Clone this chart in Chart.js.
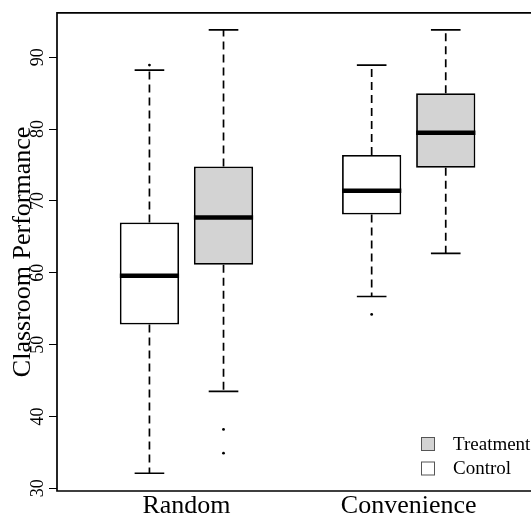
<!DOCTYPE html>
<html>
<head>
<meta charset="utf-8">
<script src="https://cdn.jsdelivr.net/npm/chart.js@4"></script>
<style>
html,body{margin:0;padding:0;background:#fff;overflow:hidden;}
#c{display:block;}
</style>
</head>
<body>
<canvas id="c" width="531" height="517"></canvas>
<script>
// ---- data ----
const groups = ['Random', 'Convenience'];
const groupPositions = [1.5, 4.5];
const seriesNames = ['Treatment', 'Control'];
const boxSeries = ['Control', 'Treatment', 'Control', 'Treatment'];
const positions = [1, 2, 4, 5];
const lowerWhisker = [32.1, 43.5, 56.7, 62.7];
const q1 = [52.8, 61.1, 68.1, 74.6];
const median = [59.6, 67.7, 71.4, 79.5];
const q3 = [67.0, 74.8, 76.4, 85.0];
const upperWhisker = [88.2, 93.8, 88.9, 93.8];
const outliers = [[88.9], [38.2, 34.9], [54.2], []];
const yTicks = [30, 40, 50, 60, 70, 80, 90];

// ---- styles ----
const FILL = { Control: '#ffffff', Treatment: '#d3d3d3' };
const BOX_HALF = 0.4;   // box half width in x units
const CAP_HALF = 0.2;   // staple half width in x units
const SERIF = "'Liberation Serif', 'Times New Roman', serif";

const boxData = positions.map((p, i) => ({ x: p, y: [q1[i], q3[i]] }));
const outlierData = [];
outliers.forEach((arr, i) => arr.forEach(v => outlierData.push({ x: positions[i], y: v })));

const boxPlugin = {
  id: 'boxParts',
  afterDatasetsDraw(chart) {
    const { ctx, scales: { x, y } } = chart;
    ctx.save();
    ctx.strokeStyle = '#000';
    positions.forEach((p, i) => {
      const cx = x.getPixelForValue(p);
      const capL = x.getPixelForValue(p - CAP_HALF), capR = x.getPixelForValue(p + CAP_HALF);
      const bL = x.getPixelForValue(p - BOX_HALF), bR = x.getPixelForValue(p + BOX_HALF);
      // whiskers (dashed)
      ctx.lineWidth = 1.7;
      ctx.setLineDash([8, 5]);
      ctx.lineCap = 'butt';
      ctx.beginPath();
      ctx.moveTo(cx, y.getPixelForValue(q3[i]));
      ctx.lineTo(cx, y.getPixelForValue(upperWhisker[i]));
      ctx.moveTo(cx, y.getPixelForValue(q1[i]));
      ctx.lineTo(cx, y.getPixelForValue(lowerWhisker[i]));
      ctx.stroke();
      // caps
      ctx.setLineDash([]);
      ctx.beginPath();
      const yu = y.getPixelForValue(upperWhisker[i]);
      const yl = y.getPixelForValue(lowerWhisker[i]);
      ctx.moveTo(capL, yu); ctx.lineTo(capR, yu);
      ctx.moveTo(capL, yl); ctx.lineTo(capR, yl);
      ctx.stroke();
      // median
      ctx.lineWidth = 4.5;
      const ym = y.getPixelForValue(median[i]);
      ctx.beginPath();
      ctx.moveTo(bL, ym); ctx.lineTo(bR, ym);
      ctx.stroke();
    });
    ctx.restore();
  }
};

const framePlugin = {
  id: 'frame',
  afterDraw(chart) {
    const { ctx, chartArea: a } = chart;
    ctx.save();
    ctx.strokeStyle = '#000';
    ctx.lineWidth = 1.7;
    ctx.beginPath();
    ctx.moveTo(a.right + 5, a.top);
    ctx.lineTo(a.left, a.top);
    ctx.lineTo(a.left, a.bottom);
    ctx.lineTo(a.right + 5, a.bottom);
    ctx.stroke();
    // legend (bottom-right inset)
    const x0 = 421.5, y0 = 444, dy = 24.5, s = 13;
    ctx.font = '19px ' + SERIF;
    ctx.textBaseline = 'middle';
    ctx.textAlign = 'left';
    seriesNames.forEach((name, k) => {
      const yy = y0 + k * dy;
      ctx.fillStyle = FILL[name];
      ctx.fillRect(x0, yy - s / 2, s, s);
      ctx.lineWidth = 1;
      ctx.strokeStyle = '#555';
      ctx.strokeRect(x0, yy - s / 2, s, s);
      ctx.fillStyle = '#000';
      ctx.fillText(name, 453, yy + 1);
    });
    ctx.restore();
  }
};

new Chart(document.getElementById('c'), {
  type: 'bar',
  data: {
    datasets: [
      {
        type: 'bar',
        label: 'boxes',
        data: boxData,
        backgroundColor: boxSeries.map(s => FILL[s]),
        borderColor: '#000',
        borderWidth: 1.8,
        borderSkipped: false,
        categoryPercentage: 1,
        barPercentage: 2 * BOX_HALF,
        order: 2
      },
      {
        type: 'scatter',
        label: 'outliers',
        data: outlierData,
        pointRadius: 1.4,
        pointBackgroundColor: '#000',
        pointBorderWidth: 0,
        showLine: false,
        order: 1
      }
    ]
  },
  options: {
    responsive: false,
    animation: false,
    events: [],
    layout: { padding: { top: 6.5, left: 0, right: 0, bottom: 0 } },
    plugins: { legend: { display: false }, tooltip: { enabled: false } },
    scales: {
      x: {
        type: 'linear',
        offset: false,
        min: -0.248,
        max: 6.097,
        afterBuildTicks(scale) { scale.ticks = groupPositions.map(v => ({ value: v })); },
        afterFit(scale) { scale.height = 26; },
        grid: { display: false, drawTicks: false },
        border: { display: false },
        ticks: {
          autoSkip: false,
          maxRotation: 0,
          padding: 0,
          color: '#000',
          font: { family: SERIF, size: 26 },
          callback: (v) => groups[groupPositions.indexOf(v)]
        }
      },
      y: {
        type: 'linear',
        min: 29.63,
        max: 96.18,
        afterBuildTicks(scale) { scale.ticks = yTicks.map(v => ({ value: v })); },
        afterFit(scale) { scale.width = 57; },
        grid: { display: true, drawOnChartArea: false, drawTicks: true, tickLength: 8, color: '#000', lineWidth: 1 },
        border: { display: false },
        ticks: {
          minRotation: 90,
          maxRotation: 90,
          crossAlign: 'center',
          padding: 2,
          color: '#000',
          font: { family: SERIF, size: 18 },
          callback: (v) => String(v)
        },
        title: {
          display: true,
          text: 'Classroom Performance',
          color: '#000',
          font: { family: SERIF, size: 26 },
          padding: { top: 8, bottom: 0 }
        }
      }
    }
  },
  plugins: [boxPlugin, framePlugin]
});
</script>
</body>
</html>
